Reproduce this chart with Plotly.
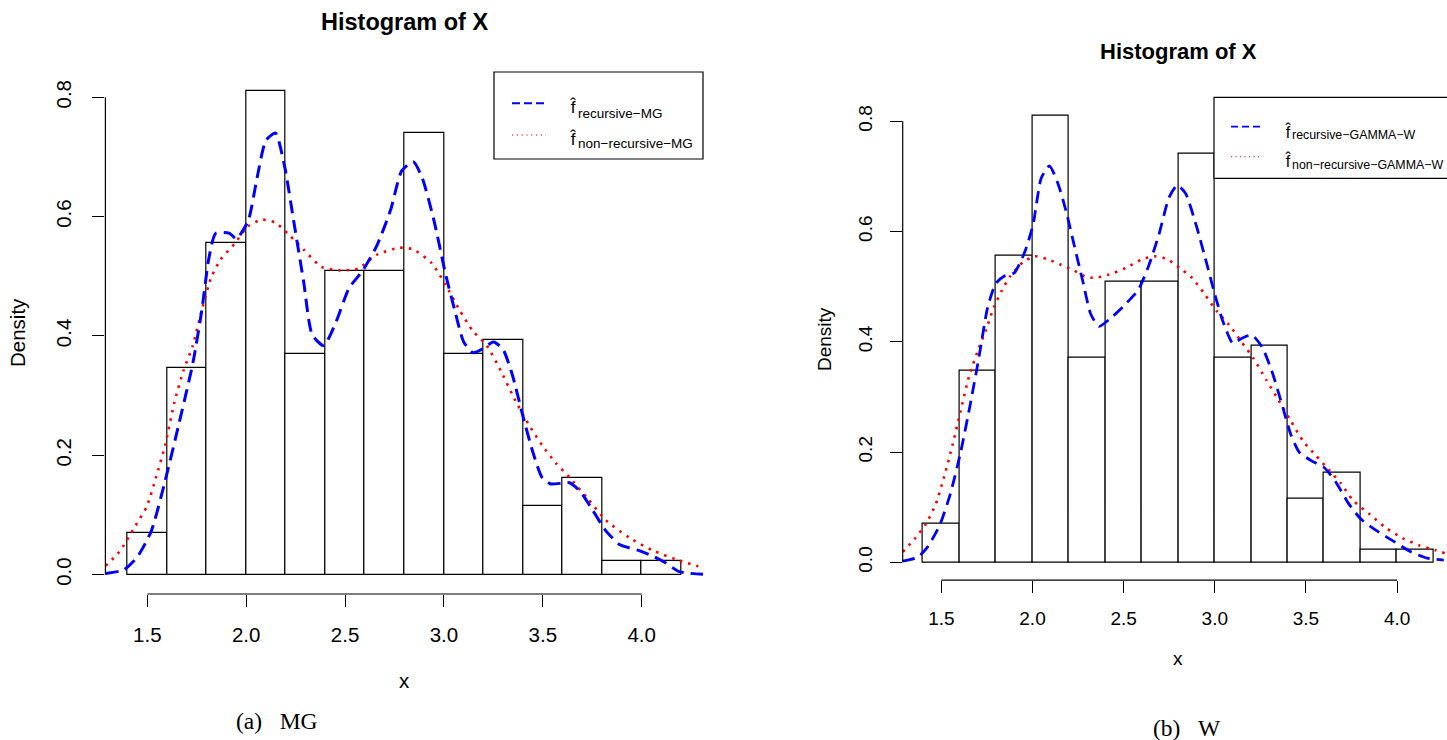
import plotly.graph_objects as go

# ---------------------------------------------------------------- data
bin_edges = [1.4, 1.6, 1.8, 2.0, 2.2, 2.4, 2.6, 2.8, 3.0, 3.2, 3.4, 3.6, 3.8, 4.0, 4.2]
bin_counts = [3, 15, 24, 35, 16, 22, 22, 32, 16, 17, 5, 7, 1, 1]

# kernel estimates, panel (a): MG
mg_rec_x = [1.289, 1.38, 1.45, 1.52, 1.59, 1.66, 1.73, 1.776, 1.81, 1.846, 1.916, 1.95,
            2.01, 2.055, 2.10, 2.148, 2.195, 2.24, 2.29, 2.334, 2.392, 2.45, 2.52, 2.59,
            2.66, 2.73, 2.787, 2.845, 2.89, 2.95, 3.008, 3.054, 3.10, 3.147, 3.194, 3.25,
            3.298, 3.345, 3.40, 3.45, 3.496, 3.54, 3.635, 3.69, 3.75, 3.82, 3.89, 3.98,
            4.05, 4.12, 4.19, 4.31]
mg_rec_y = [0.002, 0.008, 0.03, 0.073, 0.157, 0.253, 0.354, 0.444, 0.528, 0.572, 0.572, 0.563,
            0.593, 0.665, 0.728, 0.74, 0.683, 0.593, 0.492, 0.402, 0.384, 0.42, 0.48, 0.51,
            0.551, 0.611, 0.677, 0.692, 0.665, 0.593, 0.504, 0.444, 0.39, 0.372, 0.378, 0.39,
            0.378, 0.336, 0.265, 0.205, 0.163, 0.152, 0.154, 0.139, 0.109, 0.073, 0.05, 0.041,
            0.032, 0.02, 0.005, 0.0006]
mg_nonrec_x = [1.289, 1.358, 1.44, 1.498, 1.544, 1.59, 1.637, 1.683, 1.73, 1.776, 1.823, 1.87,
               1.94, 2.01, 2.08, 2.148, 2.218, 2.29, 2.38, 2.473, 2.566, 2.66, 2.775, 2.845,
               2.938, 3.008, 3.078, 3.147, 3.217, 3.287, 3.356, 3.426, 3.496, 3.566, 3.635,
               3.728, 3.82, 3.937, 4.053, 4.17, 4.286]
mg_nonrec_y = [0.015, 0.038, 0.082, 0.115, 0.163, 0.217, 0.289, 0.342, 0.384, 0.444, 0.498, 0.528,
               0.554, 0.584, 0.595, 0.59, 0.569, 0.545, 0.516, 0.51, 0.513, 0.536, 0.548, 0.545,
               0.522, 0.486, 0.444, 0.408, 0.384, 0.342, 0.295, 0.253, 0.217, 0.187, 0.163,
               0.127, 0.091, 0.062, 0.041, 0.026, 0.014]

# kernel estimates, panel (b): W
w_rec_x = [1.289, 1.369, 1.425, 1.493, 1.55, 1.606, 1.663, 1.708, 1.754, 1.799, 1.844, 1.90,
           1.957, 2.003, 2.048, 2.093, 2.139, 2.184, 2.229, 2.274, 2.32, 2.365, 2.433, 2.512,
           2.58, 2.637, 2.693, 2.75, 2.795, 2.84, 2.897, 2.954, 2.999, 3.044, 3.10, 3.146,
           3.203, 3.26, 3.316, 3.373, 3.418, 3.463, 3.531, 3.60, 3.667, 3.735, 3.803, 3.894,
           3.984, 4.075, 4.165, 4.256]
w_rec_y = [0.002, 0.009, 0.028, 0.069, 0.125, 0.2, 0.294, 0.375, 0.4625, 0.506, 0.519, 0.525,
           0.5625, 0.6125, 0.697, 0.719, 0.6875, 0.6375, 0.575, 0.5125, 0.45, 0.428, 0.444, 0.469,
           0.494, 0.5375, 0.594, 0.6625, 0.684, 0.669, 0.6125, 0.544, 0.4875, 0.4375, 0.397, 0.406,
           0.4125, 0.39, 0.344, 0.281, 0.231, 0.2, 0.184, 0.172, 0.144, 0.106, 0.078, 0.056,
           0.0375, 0.019, 0.0075, 0.004]
w_nonrec_x = [1.289, 1.357, 1.414, 1.47, 1.516, 1.561, 1.606, 1.652, 1.697, 1.742, 1.788, 1.833,
              1.878, 1.946, 2.014, 2.082, 2.15, 2.218, 2.286, 2.342, 2.42, 2.512, 2.603, 2.67,
              2.739, 2.807, 2.875, 2.942, 3.01, 3.078, 3.146, 3.214, 3.282, 3.35, 3.418, 3.486,
              3.554, 3.622, 3.69, 3.758, 3.848, 3.939, 4.03, 4.12, 4.21, 4.267]
w_nonrec_y = [0.019, 0.044, 0.069, 0.106, 0.156, 0.2125, 0.275, 0.3375, 0.381, 0.419, 0.4625, 0.494,
              0.519, 0.544, 0.555, 0.55, 0.5406, 0.531, 0.519, 0.516, 0.522, 0.534, 0.55, 0.555,
              0.55, 0.534, 0.516, 0.4875, 0.456, 0.431, 0.4, 0.369, 0.331, 0.294, 0.256, 0.219,
              0.194, 0.169, 0.144, 0.1125, 0.0875, 0.0625, 0.044, 0.031, 0.022, 0.016]

x_ticks = [1.5, 2.0, 2.5, 3.0, 3.5, 4.0]
y_ticks = [0.0, 0.2, 0.4, 0.6, 0.8]

# ---------------------------------------------------------------- helpers
W, H = 1447, 740
SANS = "Liberation Sans"
SERIF = "Liberation Serif"
BLUE = "#0000FF"
RED = "#FF0000"
F_HAT = "f\u0302"


def px(x):
    return x / W


def py(y):
    return 1 - y / H


n_obs = sum(bin_counts)
widths = [b - a for a, b in zip(bin_edges[:-1], bin_edges[1:])]
centers = [(a + b) / 2 for a, b in zip(bin_edges[:-1], bin_edges[1:])]
density = [c / (n_obs * w) for c, w in zip(bin_counts, widths)]
y_max = max(density)
y_pad = 0.04 * y_max
x_lo = bin_edges[0] - 0.04 * (bin_edges[-1] - bin_edges[0])
x_hi = bin_edges[-1] + 0.04 * (bin_edges[-1] - bin_edges[0])

fig = go.Figure()

panels = [
    dict(xa="x", ya="y", rec=(mg_rec_x, mg_rec_y), nonrec=(mg_nonrec_x, mg_nonrec_y),
         lw=3.0, dash="13px,7px"),
    dict(xa="x2", ya="y2", rec=(w_rec_x, w_rec_y), nonrec=(w_nonrec_x, w_nonrec_y),
         lw=2.8, dash="12px,7px"),
]

for p in panels:
    fig.add_trace(go.Bar(
        x=centers, y=density, width=widths, xaxis=p["xa"], yaxis=p["ya"],
        marker=dict(color="white", line=dict(color="black", width=1.2)),
        showlegend=False, hoverinfo="skip"))
    fig.add_trace(go.Scatter(
        x=p["nonrec"][0], y=p["nonrec"][1], xaxis=p["xa"], yaxis=p["ya"], mode="lines",
        line=dict(color=RED, width=2.6, dash="2.5px,6px", shape="spline", smoothing=0.6),
        showlegend=False, hoverinfo="skip"))
    fig.add_trace(go.Scatter(
        x=p["rec"][0], y=p["rec"][1], xaxis=p["xa"], yaxis=p["ya"], mode="lines",
        line=dict(color=BLUE, width=p["lw"], dash=p["dash"], shape="spline", smoothing=0.6),
        showlegend=False, hoverinfo="skip"))

# ---------------------------------------------------------------- axes
def x_axis(domain, rng, fs, standoff, anchor):
    return dict(domain=domain, range=rng, anchor=anchor, showgrid=False, zeroline=False,
                showline=False, tickmode="array", tickvals=x_ticks,
                ticktext=[f"{t:.1f}" for t in x_ticks],
                ticks="outside", ticklen=12, tickwidth=1.2, tickcolor="black",
                tickfont=dict(family=SANS, size=fs, color="black"),
                ticklabelstandoff=standoff, fixedrange=True)


def y_axis(domain, fs, standoff, anchor):
    return dict(domain=domain, range=[-y_pad, y_max + y_pad], anchor=anchor, showgrid=False,
                zeroline=False, showline=False, tickmode="array", tickvals=y_ticks,
                ticktext=[f"{t:.1f}" for t in y_ticks], tickangle=-90,
                ticks="outside", ticklen=12, tickwidth=1.2, tickcolor="black",
                tickfont=dict(family=SANS, size=fs, color="black"),
                ticklabelstandoff=standoff, fixedrange=True)


right_hi = x_lo + (W - 902.7) / 182.3

fig.update_layout(
    width=W, height=H, autosize=False,
    margin=dict(l=0, r=0, t=0, b=0),
    paper_bgcolor="white", plot_bgcolor="white",
    showlegend=False,
    bargap=0,
    xaxis=x_axis([px(105.4), px(703.4)], [x_lo, x_hi], 20.5, 10, "y"),
    yaxis=y_axis([py(594.0), py(71.9)], 20.5, 13, "x"),
    xaxis2=x_axis([px(902.7), 1.0], [x_lo, right_hi], 19, 9, "y2"),
    yaxis2=y_axis([py(580.2), py(97.8)], 19, 10, "x2"),
)

shapes = []
for xa, ya in (("x", "y"), ("x2", "y2")):
    shapes.append(dict(type="line", xref=xa, yref=f"{ya} domain",
                       x0=x_ticks[0], x1=x_ticks[-1], y0=0, y1=0,
                       line=dict(color="black", width=1.2)))
    shapes.append(dict(type="line", xref=f"{xa} domain", yref=ya,
                       x0=0, x1=0, y0=y_ticks[0], y1=y_ticks[-1],
                       line=dict(color="black", width=1.2)))

# legend boxes and line samples
shapes.append(dict(type="rect", xref="paper", yref="paper",
                   x0=px(494), x1=px(703), y0=py(159), y1=py(72),
                   line=dict(color="black", width=1.2), fillcolor="white", layer="above"))
shapes.append(dict(type="line", xref="paper", yref="paper",
                   x0=px(512), x1=px(546), y0=py(103.3), y1=py(103.3),
                   line=dict(color=BLUE, width=2, dash="8px,4px"), layer="above"))
shapes.append(dict(type="line", xref="paper", yref="paper",
                   x0=px(512), x1=px(546), y0=py(135), y1=py(135),
                   line=dict(color=RED, width=1.2, dash="1.2px,3.6px"), layer="above"))

shapes.append(dict(type="rect", xref="paper", yref="paper",
                   x0=px(1214), x1=px(1460), y0=py(178.3), y1=py(97.3),
                   line=dict(color="black", width=1.2), fillcolor="white", layer="above"))
shapes.append(dict(type="line", xref="paper", yref="paper",
                   x0=px(1231), x1=px(1262), y0=py(126.7), y1=py(126.7),
                   line=dict(color=BLUE, width=1.8, dash="7px,4px"), layer="above"))
shapes.append(dict(type="line", xref="paper", yref="paper",
                   x0=px(1231), x1=px(1262), y0=py(156.7), y1=py(156.7),
                   line=dict(color=RED, width=1.1, dash="1.1px,3.4px"), layer="above"))
fig.update_layout(shapes=shapes)

# ---------------------------------------------------------------- text
annotations = []


def text(x, y_base, s, fs, family=SANS, anchor="left", angle=0, bold=False):
    annotations.append(dict(
        x=px(x), y=py(y_base - 0.35 * fs), xref="paper", yref="paper",
        text=f"<b>{s}</b>" if bold else s, showarrow=False,
        xanchor=anchor, yanchor="middle", textangle=angle,
        font=dict(family=family, size=fs, color="black")))


def centered(x, y, s, fs, family=SANS, angle=0, bold=False):
    annotations.append(dict(
        x=px(x), y=py(y), xref="paper", yref="paper",
        text=f"<b>{s}</b>" if bold else s, showarrow=False,
        xanchor="center", yanchor="middle", textangle=angle,
        font=dict(family=family, size=fs, color="black")))


# titles and axis labels
centered(404.4, 22, "Histogram of X", 23.5, bold=True)
centered(1178, 52, "Histogram of X", 22, bold=True)
centered(404.4, 680, "x", 20.5)
centered(1178, 658, "x", 19)
centered(18, 333, "Density", 20.5, angle=-90)
centered(824, 339, "Density", 19, angle=-90)

# legend entries: f-hat followed by the subscript
text(568, 113.3, F_HAT, 17)
text(576, 118.3, "recursive−MG", 13.5)
text(568, 145, F_HAT, 17)
text(576, 148.3, "non−recursive−MG", 13.5)

text(1283, 136.7, F_HAT, 16)
text(1290, 139.5, "recursive−GAMMA−W", 12.4)
text(1283, 166, F_HAT, 16)
text(1290, 169.5, "non−recursive−GAMMA−W", 12.4)

# sub-figure captions
centered(277, 721, "(a)&nbsp;&nbsp;&nbsp;MG", 23.5, family=SERIF)
centered(1187, 728, "(b)&nbsp;&nbsp;&nbsp;W", 23.5, family=SERIF)

fig.update_layout(annotations=annotations)

fig.write_html("out.html")
